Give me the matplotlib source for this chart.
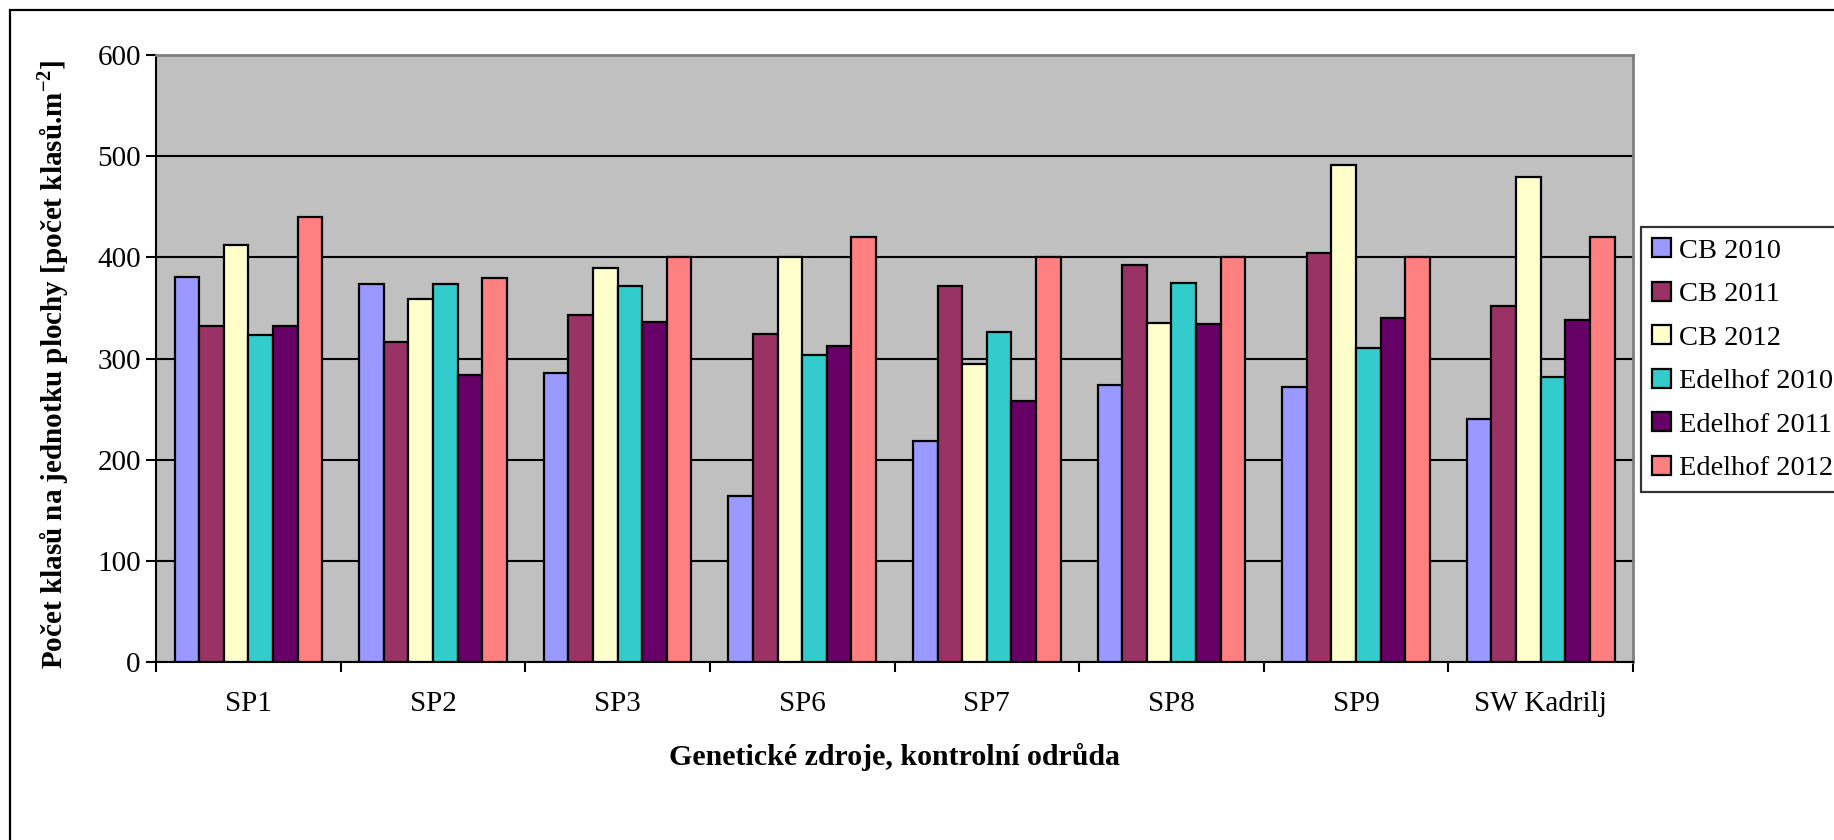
import numpy as np
import matplotlib
matplotlib.use("Agg")
import matplotlib.pyplot as plt
from matplotlib.patches import Rectangle

plt.rcParams['font.family'] = ['Liberation Serif', 'DejaVu Serif']
plt.rcParams['mathtext.fontset'] = 'custom'
plt.rcParams['mathtext.rm'] = 'Liberation Serif'
plt.rcParams['mathtext.bf'] = 'Liberation Serif:bold'

# Number of ears per square metre for each genetic resource / control variety
categories = ['SP1', 'SP2', 'SP3', 'SP6', 'SP7', 'SP8', 'SP9', 'SW Kadrilj']
series_names = ['CB 2010', 'CB 2011', 'CB 2012', 'Edelhof 2010', 'Edelhof 2011', 'Edelhof 2012']
cb_2010 = [381, 374, 286, 164, 218, 274, 272, 240]
cb_2011 = [332, 316, 343, 324, 372, 392, 404, 352]
cb_2012 = [412, 359, 389, 400, 295, 335, 491, 479]
edelhof_2010 = [323, 374, 372, 303, 326, 375, 310, 282]
edelhof_2011 = [332, 284, 336, 312, 258, 334, 340, 338]
edelhof_2012 = [440, 380, 400, 420, 400, 400, 400, 420]
yticks = [0, 100, 200, 300, 400, 500, 600]

series = [cb_2010, cb_2011, cb_2012, edelhof_2010, edelhof_2011, edelhof_2012]
colors = ['#9999FF', '#993366', '#FFFFCC', '#33CCCC', '#660066', '#FF8080']

fig = plt.figure(figsize=(18.34, 8.40), dpi=100)
ax = fig.add_axes([0.0851, 0.2119, 0.8053, 0.7226])
ax.set_facecolor('#C0C0C0')

# outer chart border (runs off the right and bottom edges)
fig.patches.append(Rectangle((10 / 1834, -0.1), 1.2, 1 - 10 / 840 + 0.1,
                             transform=fig.transFigure, fill=False,
                             edgecolor='black', linewidth=1.6, zorder=0))

x = np.arange(len(categories))
w = 0.8 / len(series)
for j, (vals, name, col) in enumerate(zip(series, series_names, colors)):
    ax.bar(x + (j - 2.5) * w, vals, width=w, color=col, edgecolor='black',
           linewidth=1.6, label=name, zorder=3)

ax.set_xlim(-0.5, len(categories) - 0.5)
ax.set_ylim(0, 600)
ax.set_yticks(yticks)
ax.yaxis.grid(True, color='black', linewidth=1.5, zorder=1)
ax.set_axisbelow(True)

# category boundaries get the ticks, labels sit at the group centres
ax.set_xticks(np.arange(-0.5, len(categories)), labels=[''] * (len(categories) + 1))
ax.set_xticks(x, labels=categories, minor=True)
ax.tick_params(axis='x', which='major', length=7, width=1.5, direction='out')
ax.tick_params(axis='x', which='minor', length=0, pad=21, labelsize=21)
ax.tick_params(axis='y', length=7, width=1.5, direction='out', pad=4, labelsize=21)

for side in ['left', 'bottom']:
    ax.spines[side].set_color('black')
    ax.spines[side].set_linewidth(1.5)
for side in ['top', 'right']:
    ax.spines[side].set_color('#808080')
    ax.spines[side].set_linewidth(2)

ax.set_xlabel('Genetické zdroje, kontrolní odrůda', fontsize=21.5, fontweight='bold', va='center')
ax.xaxis.set_label_coords(0.5, -0.157)
ax.set_ylabel('Počet klasů na jednotku plochy [počet klasů.m$^{\\mathbf{-2}}$]',
              fontsize=21, fontweight='bold', va='center')
ax.yaxis.set_label_coords(-0.0697, 0.49)

leg = fig.legend(loc='upper left', bbox_to_anchor=(1641 / 1834, 1 - 227 / 840),
                 fontsize=20.5, frameon=True, fancybox=False, shadow=False,
                 handlelength=0.65, handleheight=0.65, handletextpad=0.3,
                 borderpad=0.4, labelspacing=0.63, borderaxespad=0)
leg.get_frame().set_edgecolor('black')
leg.get_frame().set_linewidth(1.6)
for h in leg.legend_handles:
    h.set_linewidth(1.6)

fig.savefig('out.png', dpi=100)
